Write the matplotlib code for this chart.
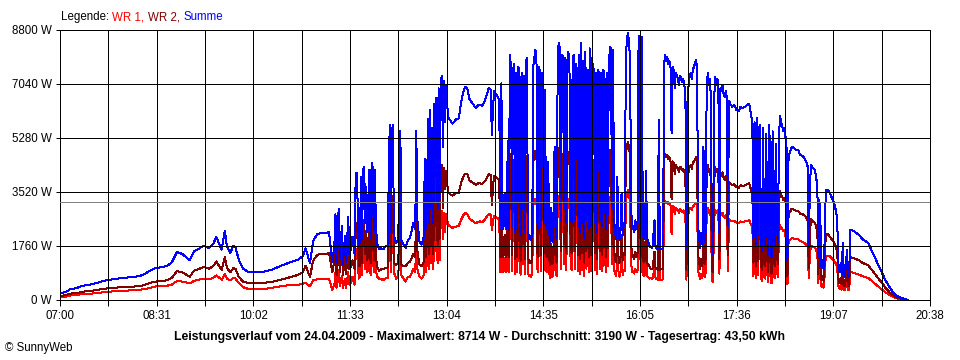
import numpy as np
import matplotlib
matplotlib.use("Agg")
import matplotlib.pyplot as plt

# Leistungsverlauf 24.04.2009, Zeit in Minuten nach 07:00, Leistung in W

# --- Vormittag, ruhig ---
t_morning = [0, 5, 10, 15, 20, 25, 30, 35, 40, 45, 50, 55, 60, 65, 70, 75, 80, 85, 90, 95, 100,
             105, 110, 115, 120,
             122, 126, 130, 135, 140, 144, 147, 150, 152, 155, 157, 160, 163, 165, 168, 172,
             177, 182, 188, 194, 200, 206, 212, 218, 224, 228, 231, 235, 238, 242, 248, 253]
wr1_morning = [90, 100, 150, 160, 190, 200, 210, 230, 250, 270, 280, 290, 300, 310, 320, 330, 360, 400, 440, 450, 460,
               500, 620, 600, 560,
               540, 620, 660, 690, 680, 720, 800, 720, 660, 860, 700, 640, 720, 700, 560, 420,
               360, 350, 350, 370, 400, 440, 470, 490, 500, 520, 560, 450, 640, 680, 680, 690]
wr2_morning = [140, 150, 210, 220, 260, 290, 300, 330, 360, 380, 400, 410, 420, 430, 440, 450, 500, 560, 600, 620, 640,
               720, 940, 900, 800,
               760, 960, 1000, 1080, 1020, 1100, 1260, 1080, 980, 1400, 1040, 900, 1040, 1020, 760, 600,
               560, 550, 550, 570, 600, 650, 700, 760, 820, 900, 1120, 750, 1280, 1480, 1500, 1520]

# --- 11:00 - 13:05, wolkig ---
t_spiky1 = [256, 258, 259, 260, 262, 263, 265, 266, 268, 269,
            271, 272, 274, 275, 277, 278, 279, 280, 281, 282,
            283, 284, 285, 286, 287, 288, 289, 290, 291, 292,
            293, 294, 295, 296, 297, 298, 300, 302, 304, 306,
            308, 310, 311, 312, 313, 314, 316, 318, 320, 321,
            323, 325, 327, 329, 331, 332, 334, 335, 336, 338,
            340, 342, 343, 344, 345, 346, 347, 348, 349, 350,
            351, 352, 353, 354, 355, 356, 357, 358, 359, 360,
            361, 362, 363, 364, 365]
wr1_spiky1 = [330, 500, 900, 400, 980, 450, 800, 380, 700, 400,
              900, 500, 600, 760, 500, 1600, 1650, 1200, 700, 760,
              1550, 800, 1700, 1740, 1000, 1500, 900, 1100, 1700, 800,
              1780, 1740, 900, 1700, 1000, 760, 700, 680, 650, 700,
              720, 2300, 900, 2200, 2300, 900, 700, 800, 2100, 800,
              700, 600, 750, 760, 900, 1000, 900, 2100, 1000, 760,
              700, 800, 1800, 900, 1200, 2300, 1000, 2400, 1200, 2200,
              1000, 2500, 1600, 2600, 1200, 2700, 1300, 2800, 2900, 2000,
              2850, 2200, 2800, 2600, 2450]
wr2_spiky1 = [900, 1300, 1900, 800, 2000, 900, 1600, 800, 1400, 850,
              1800, 1000, 1100, 1300, 1000, 2500, 2500, 1800, 1100, 1100,
              2450, 1200, 2550, 2600, 1500, 2200, 1300, 1600, 2550, 1200,
              2680, 2600, 1300, 2550, 1500, 1100, 950, 1000, 1000, 1050,
              1050, 3400, 1300, 3300, 3400, 1200, 1150, 1200, 3400, 1150,
              1100, 1100, 1200, 1250, 1400, 1500, 1400, 3400, 1600, 1150,
              1100, 1250, 2800, 1400, 1900, 3600, 1500, 3800, 1800, 3400,
              1500, 3900, 2400, 4000, 1800, 4200, 2000, 4300, 4400, 3000,
              4300, 3600, 4200, 3800, 3500]

# --- 13:05 - 13:55, sonnig ---
t_plateau = [367, 369, 371, 373, 375, 377, 379, 381, 383, 385, 387, 389, 391,
             393, 395, 397, 399, 401, 403, 405, 406, 408, 410, 412, 413, 414]
wr1_plateau = [2400, 2350, 2380, 2400, 2420, 2600, 2750, 2830, 2800, 2650, 2600, 2550, 2500,
               2550, 2560, 2540, 2600, 2700, 2800, 2780, 2280, 2750, 2700, 2650, 2600, 900]
wr2_plateau = [3450, 3400, 3450, 3500, 3500, 3800, 4000, 4120, 4100, 3900, 3850, 3800, 3750,
               3800, 3800, 3780, 3850, 3950, 4100, 4070, 3100, 4050, 4000, 3950, 3900, 1400]

# --- 13:55 - 16:14, minuetlich ---
t_noon = list(range(415, 555))
wr1_noon = [2860, 900, 940, 1380, 900, 940, 2060, 900, 3250, 3080,
            940, 3040, 3120, 860, 3000, 900, 3080, 3040, 820, 3000,
            1180, 2960, 860, 3120, 3200, 900, 780, 820, 760, 860,
            3080, 3200, 3300, 3150, 900, 3080, 3040, 940, 3000, 2860,
            980, 2780, 940, 900, 1780, 860, 720, 1180, 740, 940,
            1980, 900, 780, 3280, 3400, 3330, 1020, 3250, 3230, 1180,
            3200, 980, 3150, 3280, 3080, 1380, 980, 3200, 3250, 1020,
            3120, 3040, 940, 3250, 860, 3400, 980, 3150, 780, 3280,
            1020, 3040, 900, 3330, 940, 3200, 3080, 3040, 980, 3000,
            860, 3040, 2960, 1020, 3000, 940, 3040, 2920, 900, 3000,
            1100, 3040, 3350, 3330, 1180, 3300, 980, 860, 780, 1580,
            940, 760, 900, 1380, 820, 980, 940, 3150, 3450, 3580,
            3410, 3160, 1180, 900, 940, 860, 1020, 900, 980, 3490,
            3080, 900, 3480, 860, 780, 820, 1660, 780, 740, 700]
wr2_noon = [4200, 1400, 1460, 2120, 1400, 1460, 3140, 1400, 4750, 4520,
            1460, 4460, 4580, 1340, 4400, 1400, 4520, 4460, 1280, 4400,
            1820, 4340, 1340, 4580, 4700, 1400, 1220, 1280, 1190, 1340,
            4520, 4700, 4850, 4650, 1400, 4520, 4460, 1460, 4400, 4200,
            1520, 4060, 1460, 1400, 2720, 1340, 1130, 1820, 1160, 1450,
            3020, 1400, 1220, 4820, 4970, 4870, 1580, 4750, 4720, 1820,
            4700, 1520, 4650, 4820, 4520, 2120, 1520, 4700, 4750, 1580,
            4580, 4460, 1460, 4750, 1340, 4970, 1520, 4650, 1220, 4820,
            1580, 4460, 1400, 4870, 1460, 4700, 4520, 4460, 1520, 4400,
            1340, 4460, 4340, 1580, 4400, 1460, 4460, 4280, 1400, 4400,
            1700, 4460, 4900, 4870, 1820, 4850, 1520, 1340, 1220, 2420,
            1460, 1200, 1400, 2120, 1280, 1520, 1460, 4650, 5050, 5134,
            4990, 4660, 1820, 1400, 1460, 1340, 1580, 1400, 1520, 5110,
            4520, 1400, 5100, 1340, 1220, 1280, 2540, 1220, 1160, 1100]

# --- 16:15 - 18:21 ---
t_afternoon = ([555, 557, 559, 560, 562, 563, 564, 566, 567] + list(range(568, 631))
               + [632, 634, 636, 638, 640, 642, 644, 646, 648] + list(range(650, 682)))
wr1_afternoon = [710, 690, 1020, 690, 660, 2350, 660, 650, 680,
                 3120, 3240, 3150, 3210, 3120, 3150, 3080, 2150, 3080, 3040,
                 2800, 3000, 2960, 2920, 2840, 2960, 2940, 2880, 2920, 2840,
                 2780, 660, 2640, 2840, 2960, 3000, 2920, 3040, 3080, 3120,
                 3160, 3080, 940, 780, 690, 860, 700, 1980, 740, 860,
                 2760, 3000, 2840, 2920, 2680, 640, 600, 2640, 2950, 2840,
                 2920, 2880, 860, 2800, 2760, 2840, 2720, 2680, 2760, 2690,
                 940, 2640, 2600,
                 2560, 2580, 2520, 2500, 2560, 2540, 2560, 2580, 2600,
                 2440, 2320, 780, 2360, 700, 2420, 820, 2240, 2320, 740,
                 620, 2280, 780, 700, 2200, 860, 580, 2320, 780, 540,
                 2240, 900, 700, 2080, 980, 740, 2160, 2440, 2360, 2320,
                 2240, 2280]
wr2_afternoon = [1030, 1010, 1580, 1010, 990, 3520, 990, 1000, 1020,
                 4580, 4745, 4650, 4720, 4580, 4650, 4520, 3280, 4520, 4460,
                 4100, 4400, 4340, 4280, 4160, 4340, 4310, 4220, 4280, 4160,
                 4060, 990, 3860, 4160, 4340, 4400, 4280, 4460, 4520, 4580,
                 4660, 4520, 1460, 1220, 1010, 1340, 1100, 3020, 1160, 1340,
                 4040, 4390, 4160, 4280, 3920, 960, 900, 3860, 4330, 4160,
                 4280, 4220, 1340, 4100, 4040, 4160, 3980, 3920, 4040, 3930,
                 1460, 3860, 3800,
                 3740, 3770, 3680, 3650, 3740, 3710, 3740, 3770, 3800,
                 3560, 3380, 1220, 3440, 1100, 3530, 1280, 3260, 3380, 1160,
                 980, 3320, 1220, 1100, 3200, 1340, 920, 3380, 1220, 860,
                 3260, 1400, 1100, 3020, 1520, 1160, 3140, 3560, 3440, 3380,
                 3260, 3320]

# --- Abend ---
t_evening = [682, 683, 684, 685, 686, 688, 690, 692, 694, 696,
             698, 700, 702, 703, 704, 705, 706, 708, 710, 711,
             712, 713, 714, 715, 716, 717, 718, 719, 720, 722,
             724, 726, 728, 730, 731, 732, 733, 734, 735, 736,
             737, 738, 740, 741, 742, 743, 744, 746, 748, 750,
             752, 754, 756, 758, 760, 762, 764, 766, 768, 770,
             772, 774, 776, 778, 780, 782, 784, 786, 788, 790,
             792, 794, 796, 797]
wr1_evening = [2080, 2100, 520, 1900, 1950, 2020, 2000, 1990, 1980, 1920,
               1900, 1860, 1790, 1760, 700, 1400, 1770, 1740, 1720, 1580,
               1570, 560, 1300, 990, 430, 520, 400, 800, 1450, 1440,
               1420, 1350, 1280, 1150, 920, 440, 360, 480, 340, 740,
               330, 310, 650, 310, 320, 900, 910, 890, 860, 840,
               820, 780, 760, 740, 720, 660, 600, 540, 480, 420,
               360, 300, 250, 210, 170, 130, 90, 60, 40, 30,
               20, 15, 5, 0]
wr2_evening = [3190, 3200, 780, 2770, 2850, 2980, 2950, 2910, 2910, 2810,
               2800, 2760, 2670, 2590, 1040, 2100, 2630, 2560, 2520, 2330,
               2330, 850, 1960, 1510, 656, 780, 600, 1200, 2135, 2140,
               2060, 1950, 1870, 1680, 1360, 650, 540, 720, 510, 1110,
               470, 450, 980, 450, 460, 1380, 1390, 1360, 1340, 1310,
               1280, 1220, 1190, 1160, 1130, 1040, 950, 860, 770, 680,
               590, 500, 400, 330, 250, 190, 130, 90, 70, 50,
               40, 25, 15, 0]

x_labels = ["07:00", "08:31", "10:02", "11:33", "13:04", "14:35", "16:05", "17:36", "19:07", "20:38"]
y_ticks = [0, 1760, 3520, 5280, 7040, 8800]
day_minutes = 818          # 07:00 bis 20:38
durchschnitt = 3190
maximalwert = 8714
tagesertrag = "43,50"
datum = "24.04.2009"

t = np.concatenate([t_morning, t_spiky1, t_plateau, t_noon, t_afternoon, t_evening])
wr1 = np.concatenate([wr1_morning, wr1_spiky1, wr1_plateau, wr1_noon, wr1_afternoon, wr1_evening])
wr2 = np.concatenate([wr2_morning, wr2_spiky1, wr2_plateau, wr2_noon, wr2_afternoon, wr2_evening])
summe = wr1 + wr2

FONT = ["Liberation Sans", "DejaVu Sans"]
plt.rcParams["font.family"] = FONT

PX = 0.72  # 1 Pixel in pt bei 100 dpi

fig = plt.figure(figsize=(9.6, 3.6), dpi=100)
ax = fig.add_axes([60 / 960, 60 / 360, 870 / 960, 270 / 360])

# Reihenfolge wie in der Legende: WR 1, WR 2, Summe zuletzt
ax.plot(t, wr1, color="#ff0000", lw=PX, antialiased=False, zorder=1.5)
ax.plot(t, wr2, color="#800000", lw=PX, antialiased=False, zorder=1.6)
ax.plot(t, summe, color="#0000ff", lw=PX, antialiased=False, zorder=1.7)
ax.axhline(durchschnitt, color="#808080", lw=PX, antialiased=False, zorder=3)

ax.set_xlim(0, day_minutes)
ax.set_ylim(0, y_ticks[-1])

xt = np.linspace(0, day_minutes, 19)
ax.set_xticks(xt)
lab = []
for i in range(len(xt)):
    lab.append(x_labels[i // 2] if i % 2 == 0 else "")
ax.set_xticklabels(lab)
ax.set_yticks(y_ticks)
ax.set_yticklabels(["%d W" % v for v in y_ticks])

ax.set_axisbelow(False)
ax.grid(True, color="black", lw=PX, antialiased=False)
for s in ax.spines.values():
    s.set_color("black")
    s.set_linewidth(PX)
ax.tick_params(axis="x", direction="out", length=4.5, width=PX, pad=2.5, labelsize=8.3)
ax.tick_params(axis="y", direction="out", length=3, width=PX, pad=3, labelsize=8.3)

# Legende oben links, mehrfarbig
fig.canvas.draw()
renderer = fig.canvas.get_renderer()
legend_parts = [("Legende: ", "black"), ("WR 1, ", "#ff0000"), ("WR 2, ", "#800000"), ("Summe", "#0000ff")]
xpos = 61
for txt, col in legend_parts:
    tt = fig.text(xpos / 960, 1 - 17 / 360, txt, color=col, fontsize=8.3, va="center", ha="left")
    bb = tt.get_window_extent(renderer)
    xpos = bb.x1

fig.text(480 / 960, 1 - 337 / 360,
         "Leistungsverlauf vom %s - Maximalwert: %d W - Durchschnitt: %d W - Tagesertrag: %s kWh"
         % (datum, maximalwert, durchschnitt, tagesertrag),
         fontsize=8.8, fontweight="bold", ha="center", va="center")
fig.text(5 / 960, 1 - 348 / 360, "\u00a9 SunnyWeb", fontsize=8.3, ha="left", va="center")

fig.savefig("out.png", dpi=100)
